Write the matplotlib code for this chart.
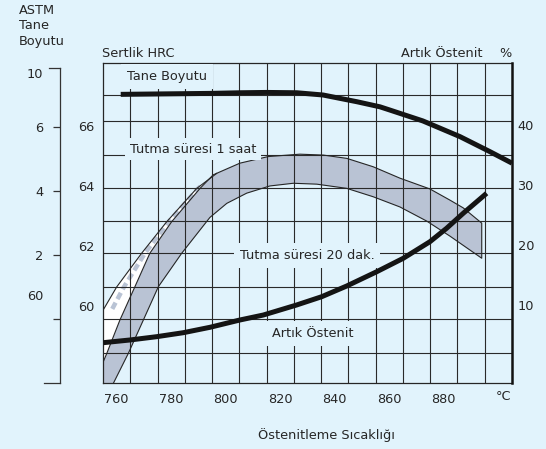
import numpy as np
import matplotlib
matplotlib.use("Agg")
import matplotlib.pyplot as plt
from matplotlib.transforms import blended_transform_factory as btf

# ---------------- data ----------------
temp_ticks = [760, 780, 800, 820, 840, 860, 880]
hrc_ticks = [60, 62, 64, 66]
ra_ticks = [10, 20, 30, 40]
astm_ticks = [6, 4, 2, 0]
astm_tick_labels = ["6", "4", "2", ""]

# Tane Boyutu (ASTM grain size)
tane_T = [761.5, 772.2, 783.2, 794.2, 805.2, 815.1, 826.1, 835.7, 848.1, 856.6,
          860.2, 872.3, 885.9, 896.9, 905.0]
tane_astm = [7.02, 7.03, 7.04, 7.05, 7.07, 7.08, 7.07, 7.00, 6.79, 6.63,
             6.53, 6.19, 5.70, 5.23, 4.87]

# Artik Ostenit (%)
ra_T = [755.1, 764.9, 774.7, 784.4, 794.2, 805.2, 813.8, 826.0, 835.2, 844.4,
        855.4, 865.1, 874.9, 881.0, 887.1, 895.7]
ra_pct = [3.72, 4.17, 4.72, 5.38, 6.28, 7.50, 8.33, 10.00, 11.38, 13.17,
          15.55, 17.78, 20.55, 22.78, 25.28, 28.62]

# Hardness band (gray) - upper edge
band_up_T = [755.1, 756.4, 761.2, 766.7, 772.2, 780.2, 790.6, 795.4, 805.2, 815.6,
             827.2, 835.8, 844.4, 854.1, 863.9, 874.9, 882.2, 887.1, 893.9]
band_up_hrc = [58.14, 58.42, 59.53, 60.64, 61.76, 62.81, 63.92, 64.37, 64.76, 64.98,
               65.06, 65.03, 64.92, 64.64, 64.26, 63.90, 63.53, 63.27, 62.76]
# Hardness band (gray) - lower edge
band_lo_T = [758.8, 764.3, 769.8, 775.3, 783.9, 794.2, 800.4, 807.7, 816.2, 824.8,
             833.4, 844.4, 854.1, 863.9, 873.7, 882.2, 893.9]
band_lo_hrc = [57.42, 58.42, 59.53, 60.64, 61.76, 62.95, 63.42, 63.76, 64.00, 64.09,
               64.06, 63.92, 63.64, 63.30, 62.83, 62.33, 61.59]

# 1 saat band (white) - outer (upper-left) edge
saat_T = [755.1, 760.0, 769.2, 778.4, 789.4, 796.7]
saat_hrc = [59.87, 60.63, 61.76, 62.81, 63.92, 64.42]

# ---------------- style / layout ----------------
W, H = 546, 449
BG = "#e1f3fc"
BAND = "#b9c3d4"
INK = "#262626"
GRID = "#2a2a2a"
FS = 9.3
plt.rcParams['font.family'] = ['DejaVu Sans']
plt.rcParams['text.color'] = INK

fig = plt.figure(figsize=(W / 100, H / 100), dpi=100, facecolor=BG)


def fx(px):
    return px / W


def fy(py):
    return 1 - py / H


L, R, TOP, BOT = 103, 512, 62.7, 383.3
ax = fig.add_axes([fx(L), fy(BOT), (R - L) / W, (BOT - TOP) / H])
ax.set_facecolor(BG)
ax.set_xlim(755, 905)
ax.set_ylim(57.42, 68.11)


def px2hrc(py):
    return 60 + (306 - py) / 30.0


# grid
ax.set_xticks(temp_ticks)
ax.set_xticklabels([str(t) for t in temp_ticks], fontsize=FS, color=INK)
ax.set_xticks(np.arange(765, 900, 10), minor=True)
ax.set_yticks(hrc_ticks)
ax.set_yticklabels([str(v) for v in hrc_ticks], fontsize=FS, color=INK)
grid_rows_px = [95, 121, 155, 188, 221, 253, 287, 319, 353]
ax.set_yticks([px2hrc(p) for p in grid_rows_px], minor=True)
ax.grid(False, which='major')
ax.grid(True, which='minor', color=GRID, lw=0.8)
ax.tick_params(which='both', length=0)
ax.tick_params(axis='y', pad=6)
ax.tick_params(axis='x', pad=7)
for s in ['top', 'left', 'bottom']:
    ax.spines[s].set_color(INK)
    ax.spines[s].set_linewidth(0.9)
ax.spines['right'].set_visible(False)

# gray band
poly_T = band_up_T + band_lo_T[::-1] + [755.0]
poly_H = band_up_hrc + band_lo_hrc[::-1] + [57.42]
ax.fill(poly_T, poly_H, color=BAND, lw=0, zorder=1)
ax.plot(band_up_T + band_lo_T[::-1], band_up_hrc + band_lo_hrc[::-1],
        color=INK, lw=0.8, zorder=2)

# white "1 saat" band between outer edge and the band's upper-left edge
b_idx = band_up_T.index(795.4) + 1
inner_T = band_up_T[:b_idx]
inner_H = band_up_hrc[:b_idx]
ax.fill(saat_T + inner_T[::-1], saat_hrc + inner_H[::-1], color='white', lw=0, zorder=1)
# dithered gray stripe inside the white band
hh = np.linspace(59.9, 64.0, 60)
tA = np.interp(hh, saat_hrc, saat_T)
tB = np.interp(hh, inner_H, inner_T)
ax.plot(tA + 0.4 * (tB - tA), hh, color=BAND, lw=3.2, dashes=(1.6, 0.9), zorder=1.2)
ax.plot(saat_T, saat_hrc, color=INK, lw=0.8, zorder=2)

# labels inside plot with background boxes
box = dict(boxstyle='square,pad=0.45', fc=BG, ec='none')
ax.text(763.8, px2hrc(80), "Tane Boyutu", fontsize=FS, va='baseline', ha='left', bbox=box, zorder=3)
ax.text(764.9, px2hrc(153), "Tutma süresi 1 saat", fontsize=FS, va='baseline', ha='left',
        bbox=dict(boxstyle='square,pad=0.35', fc=BG, ec='none'), zorder=3)
ax.text(805.2, px2hrc(259), "Tutma süresi 20 dak.", fontsize=FS, va='baseline', ha='left', bbox=box, zorder=3)
ax.text(816.9, px2hrc(337), "Artık Östenit", fontsize=FS, va='baseline', ha='left', bbox=box, zorder=3)

# right axis: retained austenite %
ax_r = ax.twinx()
ax_r.set_ylim((365 - BOT) / 6.0, (365 - TOP) / 6.0)
ax_r.set_yticks(ra_ticks)
ax_r.set_yticklabels([str(v) for v in ra_ticks], fontsize=FS, color=INK)
ax_r.tick_params(length=0, pad=4)
for s in ['top', 'left', 'bottom']:
    ax_r.spines[s].set_visible(False)
ax_r.spines['right'].set_linewidth(1.8)
ax_r.spines['right'].set_color('#111111')
ax_r.plot(ra_T, ra_pct, color='#141414', lw=3.6, solid_capstyle='butt', zorder=4)

# grain size curve on ASTM scale
ax_t = ax.twinx()
ax_t.set_ylim(6 - (BOT - 127) / 32.0, 6 + (127 - TOP) / 32.0)
ax_t.axis('off')
ax_t.plot(tane_T, tane_astm, color='#141414', lw=3.6, solid_capstyle='butt', zorder=4)

# outer ASTM axis
aw = 5.46
ax_a = fig.add_axes([fx(60), fy(BOT), aw / W, (BOT - TOP) / H])
ax_a.patch.set_visible(False)
ax_a.set_ylim(6 - (BOT - 127) / 32.0, 6 + (127 - TOP) / 32.0)
for s in ['top', 'right', 'bottom']:
    ax_a.spines[s].set_visible(False)
a_top = 6 + (127 - 68.3) / 32.0
a_bot = 6 - (BOT - 127) / 32.0
ax_a.spines['left'].set_bounds(a_bot, a_top)
ax_a.spines['left'].set_color('#333333')
ax_a.spines['left'].set_linewidth(0.9)
ax_a.set_xticks([])
ax_a.set_yticks(astm_ticks)
ax_a.set_yticklabels(astm_tick_labels, fontsize=FS, color=INK)
ax_a.tick_params(axis='y', length=5, width=0.9, color='#333333', direction='out', pad=7.2)
tr = btf(ax_a.transAxes, ax_a.transData)
ax_a.plot([-11 / aw, 0], [a_top, a_top], color='#333333', lw=0.9, transform=tr, clip_on=False)
ax_a.plot([-16 / aw, 0], [a_bot, a_bot], color='#333333', lw=0.9, transform=tr, clip_on=False)
ax_a.text(-17 / aw, 6 + (127 - 75) / 32.0, "10", transform=tr, fontsize=FS, ha='right', va='center')
ax_a.text(-17 / aw, 6 + (127 - 297) / 32.0, "60", transform=tr, fontsize=FS, ha='right', va='center')

# header / axis texts
fig.text(fx(19), fy(4), "ASTM\nTane\nBoyutu", fontsize=FS, ha='left', va='top', linespacing=1.24)
fig.text(fx(102), fy(57), "Sertlik HRC", fontsize=FS, ha='left', va='baseline')
fig.text(fx(401), fy(57), "Artık Östenit", fontsize=FS, ha='left', va='baseline')
fig.text(fx(512), fy(57), "%", fontsize=FS, ha='right', va='baseline')
fig.text(fx(511), fy(399.5), "°C", fontsize=FS, ha='right', va='baseline')
fig.text(fx(326), fy(438.5), "Östenitleme Sıcaklığı", fontsize=FS, ha='center', va='baseline')

fig.savefig("out.png", dpi=100, facecolor=BG)
